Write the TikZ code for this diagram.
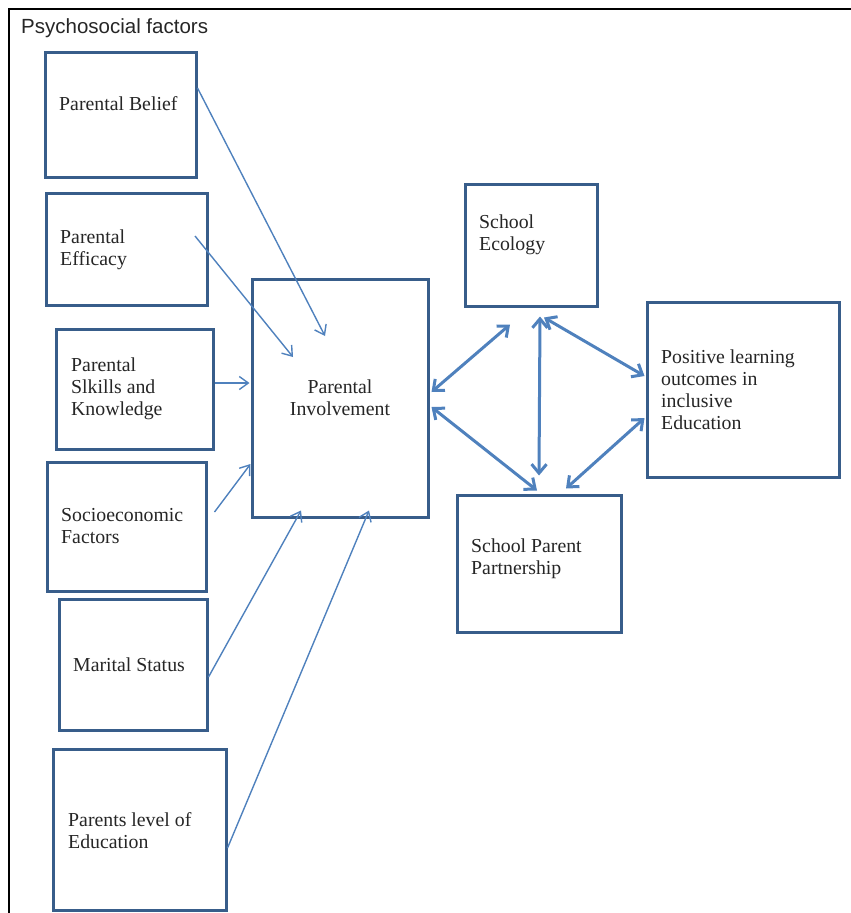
\documentclass[tikz,border=0pt]{standalone}
\usepackage{fontspec}
\setmainfont{Liberation Serif}
\newfontfamily\headfont{Liberation Sans}
\usetikzlibrary{arrows.meta}
\definecolor{boxblue}{HTML}{385D8A}
\definecolor{arrblue}{HTML}{4F81BD}
\definecolor{txtgray}{HTML}{262626}
\begin{document}
\begin{tikzpicture}[x=1pt,y=-1pt,
  box/.style={draw=boxblue, line width=3pt, inner sep=0pt, fill=white},
  lbl/.style={inner sep=0pt, anchor=west, align=left, text=txtgray,
    font=\fontsize{19.8}{22}\selectfont},
  thinarr/.style={draw=arrblue, line width=1.4pt, -{Straight Barb[length=9pt,width=13pt]}},
  thickarr/.style={draw=arrblue, line width=3pt, {Straight Barb[length=9pt,width=15pt]}-{Straight Barb[length=9pt,width=15pt]}}]
\useasboundingbox (0,0) rectangle (851,913);
\draw[black, line width=1.5pt] (9,913) -- (9,9) -- (851,9);
\node[inner sep=0pt, anchor=west, text=txtgray, font=\headfont\fontsize{20.5}{22}\selectfont] (title) at (21,28) {Psychosocial factors};

% boxes
\node[box, minimum width=151pt, minimum height=125pt] (belief) at (120.5,114.5) {};
\node[box, minimum width=161pt, minimum height=112pt] (efficacy) at (126.5,249) {};
\node[box, minimum width=157pt, minimum height=120pt] (skills) at (134.5,389) {};
\node[box, minimum width=159pt, minimum height=129pt] (socio) at (126.5,526.5) {};
\node[box, minimum width=148pt, minimum height=131pt] (marital) at (133,664.5) {};
\node[box, minimum width=173pt, minimum height=161pt] (edu) at (139.5,829.5) {};
\node[box, minimum width=176pt, minimum height=238pt] (pi) at (340,398) {};
\node[box, minimum width=132pt, minimum height=122pt] (eco) at (531,245) {};
\node[box, minimum width=192pt, minimum height=175pt] (pos) at (743,389.5) {};
\node[box, minimum width=164pt, minimum height=137pt] (spp) at (539,563.5) {};

% labels
\node[lbl] (t1) at (59,104) {Parental Belief};
\node[lbl] (t2) at (60,250) {Parental\\Efficacy};
\node[lbl] (t3) at (71,389) {Parental\\Slkills and\\Knowledge};
\node[lbl, anchor=center, align=center] (t4) at (340,398) {Parental\\Involvement};
\node[lbl] (t5) at (61,526) {Socioeconomic\\Factors};
\node[lbl] (t6) at (73,665) {Marital Status};
\node[lbl] (t7) at (68,831) {Parents level of\\Education};
\node[lbl] (t8) at (479,235) {School\\Ecology};
\node[lbl] (t9) at (661,390) {Positive learning\\outcomes in\\inclusive\\Education};
\node[lbl] (t10) at (471,559) {School Parent\\Partnership};

% thin arrows into Parental Involvement
\draw[thinarr] ([yshift=26.5pt]belief.east) -- ([xshift=-15pt,yshift=62pt]pi.center);
\draw[thinarr] ([xshift=68.5pt,yshift=13pt]efficacy.center) -- ([xshift=-47pt,yshift=41pt]pi.center);
\draw[thinarr] ([yshift=6pt]skills.east) -- ([xshift=-1pt,yshift=15pt]pi.west);
\draw[thinarr] ([xshift=7pt,yshift=14.5pt]socio.east) -- ([yshift=-66pt]pi.west);
\draw[thinarr] ([yshift=-12.5pt]marital.east) -- ([xshift=-39pt,yshift=8pt]pi.south);
\draw[thinarr] ([yshift=-18.5pt]edu.east) -- ([xshift=29pt,yshift=8pt]pi.south);

% thick double arrows
\draw[thickarr] ([xshift=2pt,yshift=6pt]pi.east) -- ([xshift=-21pt,yshift=-17pt]eco.south);
\draw[thickarr] ([xshift=2pt,yshift=-9pt]pi.east) -- ([xshift=-2pt,yshift=3pt]spp.north);
\draw[thickarr] ([xshift=9pt,yshift=-9pt]eco.south) -- ([xshift=0pt,yshift=18pt]spp.north);
\draw[thickarr] ([xshift=13pt,yshift=-10pt]eco.south) -- ([xshift=-1pt,yshift=13.5pt]pos.west);
\draw[thickarr] ([xshift=-1pt,yshift=-28.5pt]pos.west) -- ([xshift=27pt,yshift=5pt]spp.north);
\end{tikzpicture}
\end{document}
